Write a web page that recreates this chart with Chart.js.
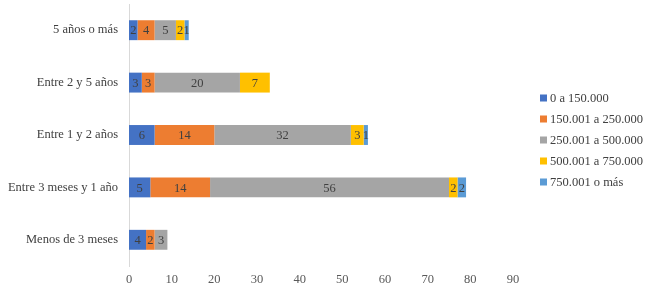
<!DOCTYPE html>
<html>
<head>
<meta charset="utf-8">
<script src="https://cdn.jsdelivr.net/npm/chart.js@4/dist/chart.umd.min.js"></script>
<style>
  html, body { margin: 0; padding: 0; background: #fff; }
  #wrap { width: 652px; height: 288px; position: relative; }
</style>
</head>
<body>
<div id="wrap"><canvas id="c" width="652" height="288"></canvas></div>
<script>
const categories = ["5 años o más", "Entre 2 y 5 años", "Entre 1 y 2 años", "Entre 3 meses y 1 año", "Menos de 3 meses"];
const seriesNames = ["0 a 150.000", "150.001 a 250.000", "250.001 a 500.000", "500.001 a 750.000", "750.001 o más"];
const s0 = [2, 3, 6, 5, 4];
const s1 = [4, 3, 14, 14, 2];
const s2 = [5, 20, 32, 56, 3];
const s3 = [2, 7, 3, 2, 0];
const s4 = [1, 0, 1, 2, 0];
const xTicks = [0, 10, 20, 30, 40, 50, 60, 70, 80, 90];
const colors = ["#4472C4", "#ED7D31", "#A5A5A5", "#FFC000", "#5B9BD5"];

const allSeries = [s0, s1, s2, s3, s4];
const FONT = "'Liberation Serif', 'Times New Roman', serif";

const labelPlugin = {
  id: 'barLabels',
  afterDatasetsDraw(chart) {
    const ctx = chart.ctx;
    ctx.save();
    ctx.font = "12.5px " + FONT;
    ctx.fillStyle = "#404040";
    ctx.textAlign = "center";
    ctx.textBaseline = "middle";
    chart.data.datasets.forEach((ds, i) => {
      const meta = chart.getDatasetMeta(i);
      meta.data.forEach((el, j) => {
        const v = ds.data[j];
        if (!v) return;
        const p = el.getProps(['x', 'y', 'base'], true);
        ctx.fillText(String(v), (p.x + p.base) / 2, p.y + 1);
      });
    });
    ctx.restore();
  }
};

const legendPlugin = {
  id: 'customLegend',
  afterDraw(chart) {
    const ctx = chart.ctx;
    ctx.save();
    ctx.font = "12.5px " + FONT;
    ctx.textAlign = "left";
    ctx.textBaseline = "middle";
    seriesNames.forEach((n, i) => {
      const y = 98 + i * 21;
      ctx.fillStyle = colors[i];
      ctx.fillRect(540, y - 3.5, 7, 7);
      ctx.fillStyle = "#404040";
      ctx.fillText(n, 550, y + 1);
    });
    ctx.restore();
  }
};

new Chart(document.getElementById('c'), {
  type: 'bar',
  data: {
    labels: categories,
    datasets: allSeries.map((d, i) => ({
      label: seriesNames[i],
      data: d,
      backgroundColor: colors[i],
      borderWidth: 0,
      categoryPercentage: 1,
      barPercentage: 0.38
    }))
  },
  options: {
    indexAxis: 'y',
    responsive: false,
    animation: false,
    layout: { padding: { left: 4, right: 139, top: 4, bottom: 0 } },
    plugins: { legend: { display: false }, tooltip: { enabled: false } },
    scales: {
      x: {
        stacked: true,
        min: 0, max: 90,
        afterBuildTicks(scale) { scale.ticks = xTicks.map(v => ({ value: v })); },
        grid: { display: false, drawTicks: false },
        border: { display: false },
        ticks: { color: "#595959", font: { family: FONT, size: 12.5 }, padding: 6 },
        afterFit(scale) { scale.height = 22; }
      },
      y: {
        stacked: true,
        grid: { display: false, drawTicks: false },
        border: { display: true, color: "#D9D9D9", width: 1 },
        ticks: { color: "#404040", font: { family: FONT, size: 12.5 }, padding: 11 },
        afterFit(scale) { scale.width = 125; scale.paddingTop = 0; scale.paddingBottom = 0; }
      }
    }
  },
  plugins: [labelPlugin, legendPlugin]
});
</script>
</body>
</html>
